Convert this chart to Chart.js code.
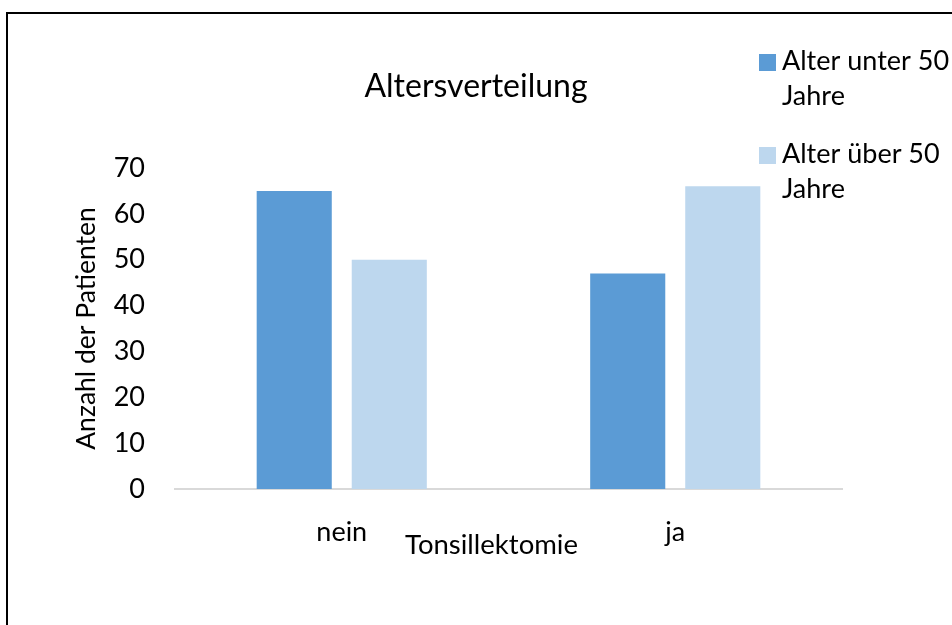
<!DOCTYPE html>
<html lang="de">
<head>
<meta charset="utf-8">
<title>Altersverteilung</title>
<script src="https://cdn.jsdelivr.net/npm/chart.js@4.4.1/dist/chart.umd.min.js"></script>
<style>
  html, body { margin: 0; padding: 0; background: #ffffff; }
  #wrap { position: relative; width: 952px; height: 625px; }
  canvas { display: block; }
</style>
</head>
<body>
<div id="wrap"><canvas id="chart" width="952" height="625"></canvas></div>
<script>
// Patients by age group, split by tonsillectomy status
const categories = ['nein', 'ja'];
const under50 = [65, 47];
const over50 = [50, 66];
const seriesLines = [['Alter unter 50', 'Jahre'], ['Alter über 50', 'Jahre']];
const seriesColors = ['#5B9BD5', '#BDD7EE'];
const yTicks = [0, 10, 20, 30, 40, 50, 60, 70];
const chartTitle = 'Altersverteilung';
const xTitle = 'Tonsillektomie';
const yTitle = 'Anzahl der Patienten';

const FONT = 'Lato, "Open Sans", sans-serif';

// White page with the frame along the left and top edges
const framePlugin = {
  id: 'frame',
  beforeDraw(chart) {
    const ctx = chart.ctx;
    ctx.save();
    ctx.fillStyle = '#ffffff';
    ctx.fillRect(0, 0, chart.width, chart.height);
    ctx.fillStyle = '#000000';
    ctx.fillRect(6, 12, 2, chart.height - 12);
    ctx.fillRect(6, 12, chart.width - 6, 2);
    ctx.restore();
  }
};

// Chart heading, centred on the page
const headingPlugin = {
  id: 'heading',
  afterDraw(chart) {
    const ctx = chart.ctx;
    ctx.save();
    ctx.font = '32px ' + FONT;
    ctx.fillStyle = '#000000';
    ctx.textAlign = 'center';
    ctx.textBaseline = 'alphabetic';
    ctx.fillText(chartTitle, chart.width / 2, 97);
    ctx.restore();
  }
};

// Two-line legend in the upper right corner
const legendPlugin = {
  id: 'sideLegend',
  afterDraw(chart) {
    const ctx = chart.ctx;
    ctx.save();
    ctx.font = '27px ' + FONT;
    ctx.textBaseline = 'alphabetic';
    ctx.textAlign = 'left';
    const entries = [{ top: 54, base: 70 }, { top: 147, base: 163 }];
    chart.data.datasets.forEach((ds, i) => {
      const e = entries[i];
      ctx.fillStyle = ds.backgroundColor;
      ctx.fillRect(759, e.top, 17, 17);
      ctx.fillStyle = '#000000';
      seriesLines[i].forEach((line, j) => {
        ctx.fillText(line, 782, e.base + j * 35);
      });
    });
    ctx.restore();
  }
};

// Category axis title, placed under the tick labels
const xTitlePlugin = {
  id: 'xTitle',
  afterDraw(chart) {
    const ctx = chart.ctx;
    const area = chart.chartArea;
    ctx.save();
    ctx.font = '27.5px ' + FONT;
    ctx.fillStyle = '#000000';
    ctx.textAlign = 'center';
    ctx.textBaseline = 'alphabetic';
    ctx.fillText(xTitle, (area.left + area.right) / 2 - 17, area.bottom + 65);
    ctx.restore();
  }
};

new Chart(document.getElementById('chart'), {
  type: 'bar',
  data: {
    labels: categories,
    datasets: [
      { label: seriesLines[0].join(' '), data: under50, backgroundColor: seriesColors[0] },
      { label: seriesLines[1].join(' '), data: over50, backgroundColor: seriesColors[1] }
    ]
  },
  options: {
    responsive: false,
    animation: false,
    devicePixelRatio: 1,
    categoryPercentage: 0.57,
    barPercentage: 0.79,
    layout: { padding: { top: 168, left: 0, right: 110, bottom: 76 } },
    plugins: {
      legend: { display: false },
      tooltip: { enabled: false },
      title: { display: false }
    },
    scales: {
      x: {
        grid: { display: false },
        border: { display: true, color: '#D9D9D9', width: 2 },
        ticks: { color: '#000000', padding: 19, font: { family: FONT, size: 27 } },
        afterFit(scale) { scale.height = 60; }
      },
      y: {
        min: 0,
        max: 70,
        grid: { display: false },
        border: { display: false },
        afterBuildTicks(scale) { scale.ticks = yTicks.map(v => ({ value: v })); },
        ticks: { color: '#000000', padding: 22, font: { family: FONT, size: 27 } },
        title: {
          display: true,
          text: yTitle,
          color: '#000000',
          font: { family: FONT, size: 26.5 },
          padding: { top: 71, bottom: 0 }
        },
        afterFit(scale) { scale.width = 175; }
      }
    }
  },
  plugins: [framePlugin, headingPlugin, legendPlugin, xTitlePlugin]
});
</script>
</body>
</html>
